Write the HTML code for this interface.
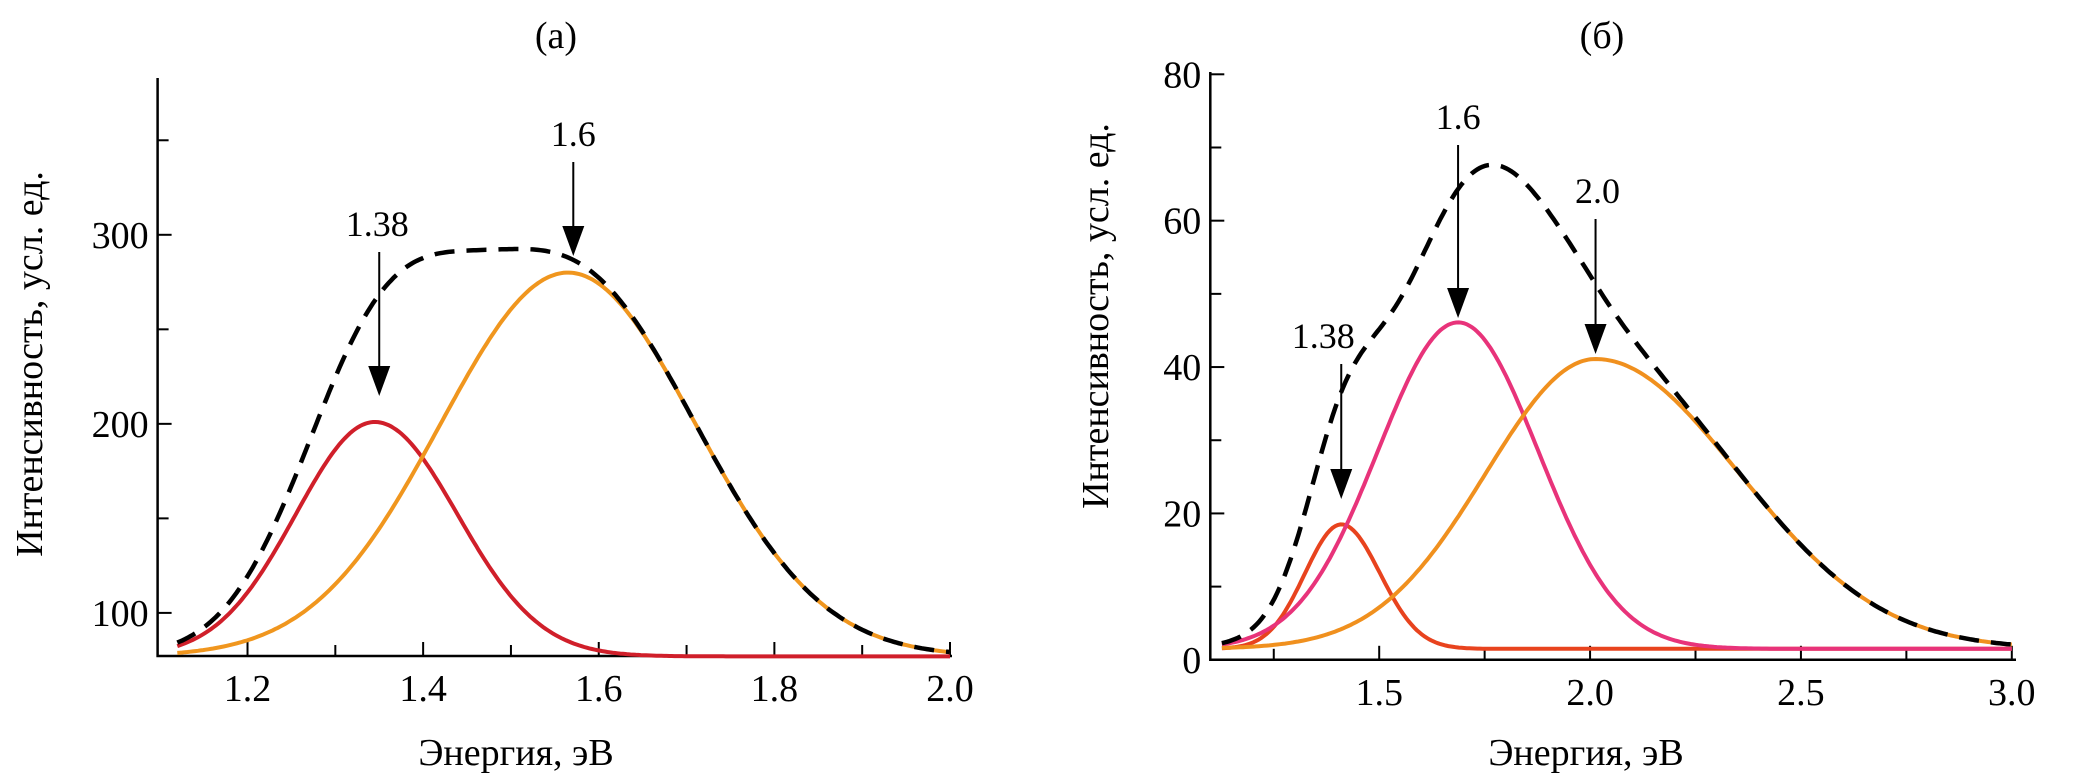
<!DOCTYPE html>
<html><head><meta charset="utf-8"><style>
html,body{margin:0;padding:0;background:#fff;}
svg{display:block;}
text{font-family:"Liberation Serif","DejaVu Serif","Times New Roman",serif;fill:#000;}
</style></head><body>
<svg id="chart" width="2092" height="783" viewBox="0 0 2092 783"></svg>
<script>
// Panel (a) data
const aXTicks=[1.2,1.4,1.6,1.8,2.0];
const aXTickLabels=["1.2","1.4","1.6","1.8","2.0"];
const aXMinor=[1.3,1.5,1.7,1.9];
const aYTicks=[100,200,300];
const aYTickLabels=["100","200","300"];
const aYMinor=[150,250,350];
const aCenters=[1.345,1.565];
const aAmps=[124,203];
const aSigL=[0.09,0.145];
const aSigR=[0.094,0.145];
const aBase=[77];
const aColors=["#d01f2a","#f0961e"];
const aArrows=[1.35,1.571];
const aArrowLabels=["1.38","1.6"];
// Panel (б) data
const bXTicks=[1.5,2.0,2.5,3.0];
const bXTickLabels=["1.5","2.0","2.5","3.0"];
const bXMinor=[1.25,1.75,2.25,2.75];
const bYTicks=[0,20,40,60,80];
const bYTickLabels=["0","20","40","60","80"];
const bYMinor=[10,30,50,70];
const bCenters=[1.41,1.687,2.013];
const bAmps=[17,44.6,39.6];
const bSigL=[0.086,0.19,0.26];
const bSigR=[0.092,0.19,0.34];
const bBase=[1.5];
const bColors=["#e8431e","#e8337a","#f0901e"];
const bArrows=[1.41,1.687,2.013];
const bArrowLabels=["1.38","1.6","2.0"];

const NS="http://www.w3.org/2000/svg";
const FONT='"Liberation Serif","DejaVu Serif",serif';
const svg=document.getElementById('chart');
function mk(tag,attrs,parent,txt){const e=document.createElementNS(NS,tag);for(const k in attrs)e.setAttribute(k,attrs[k]);if(tag==='text')e.setAttribute('font-family',FONT);if(txt!==undefined)e.textContent=txt;(parent||svg).appendChild(e);return e;}
function gauss(x,c,a,sl,sr){const s=x<c?sl:sr;return a*Math.exp(-(x-c)*(x-c)/(2*s*s));}

function panel(cfg){
  const g=mk('g',{});
  
  
  const X=v=>cfg.px0+(v-cfg.x0)/(cfg.x1-cfg.x0)*(cfg.px1-cfg.px0);
  const Y=v=>cfg.py0+(v-cfg.y0)/(cfg.y1-cfg.y0)*(cfg.py1-cfg.py0);
  const ax=mk('path',{d:`M${cfg.px0},${cfg.axTop} L${cfg.px0},${cfg.py0} L${cfg.axRight},${cfg.py0}`,fill:'none',stroke:'#000','stroke-width':2.5},g);
  
  
  cfg.xt.forEach((v,i)=>{
    const t=mk('line',{x1:X(v),x2:X(v),y1:cfg.py0,y2:cfg.py0-14,stroke:'#000','stroke-width':2},g);
    
    
    const l=mk('text',{x:X(v),y:cfg.py0+45,'text-anchor':'middle','font-size':38},g,cfg.xl[i]);
    
    
  });
  cfg.xm.forEach(v=>{
    const t=mk('line',{x1:X(v),x2:X(v),y1:cfg.py0,y2:cfg.py0-11,stroke:'#000','stroke-width':2},g);
    
    
  });
  cfg.yt.forEach((v,i)=>{
    const t=mk('line',{x1:cfg.px0,x2:cfg.px0+14,y1:Y(v),y2:Y(v),stroke:'#000','stroke-width':2},g);
    
    
    const l=mk('text',{x:cfg.px0-9,y:Y(v)+13,'text-anchor':'end','font-size':38},g,cfg.yl[i]);
    
    
  });
  cfg.ym.forEach(v=>{
    const t=mk('line',{x1:cfg.px0,x2:cfg.px0+11,y1:Y(v),y2:Y(v),stroke:'#000','stroke-width':2},g);
    
    
  });
  const N=300;
  const sum=[];
  for(let k=0;k<=N;k++)sum.push(cfg.base[0]);
  cfg.c.forEach((c,i)=>{
    let d='';
    for(let k=0;k<=N;k++){
      const x=cfg.cx0+(cfg.cx1-cfg.cx0)*k/N;
      const v=gauss(x,c,cfg.a[i],cfg.sl[i],cfg.sr[i]);
      sum[k]+=v;
      d+=(k?'L':'M')+X(x).toFixed(1)+','+Y(cfg.base[0]+v).toFixed(1);
    }
    const p=mk('path',{d:d,fill:'none',stroke:cfg.col[i],'stroke-width':4},g);
    
    
  });
  let d='';
  for(let k=0;k<=N;k++){const x=cfg.cx0+(cfg.cx1-cfg.cx0)*k/N;d+=(k?'L':'M')+X(x).toFixed(1)+','+Y(sum[k]).toFixed(1);}
  const sp=mk('path',{d:d,fill:'none',stroke:'#000','stroke-width':4.5,'stroke-dasharray':'20 12'},g);
  
  
  cfg.arr.forEach((v,i)=>{
    const x=X(v);const s=cfg.arrY[i];
    const ln=mk('line',{x1:x,x2:x,y1:s[0],y2:s[1]-28,stroke:'#000','stroke-width':2},g);
    
    
    const hd=mk('polygon',{points:`${x-11},${s[1]-30} ${x+11},${s[1]-30} ${x},${s[1]}`,fill:'#000'},g);
    
    
    const lb=mk('text',{x:x+cfg.lblDx[i],y:s[0]-16,'text-anchor':'middle','font-size':36},g,cfg.al[i]);
    
    
  });
  const tt=mk('text',{x:cfg.titleX,y:48,'text-anchor':'middle','font-size':38},g,cfg.title);
  
  
  const xt=mk('text',{x:cfg.xTitleX,y:765,'text-anchor':'middle','font-size':38},g,'Энергия, эВ');
  
  
  const yt=mk('text',{x:0,y:0,'text-anchor':'middle','font-size':38,transform:`translate(${cfg.yTitleX},${cfg.yTitleY}) rotate(-90)`},g,'Интенсивность, усл. ед.');
  
  
}

panel({name:'panel-a',px0:157.6,px1:950,x0:1.0976,x1:2.0,py0:656,py1:234.8,y0:77.2,y1:300,axTop:78,axRight:952,
  xt:aXTicks,xl:aXTickLabels,xm:aXMinor,yt:aYTicks,yl:aYTickLabels,ym:aYMinor,
  c:aCenters,a:aAmps,sl:aSigL,sr:aSigR,base:aBase,col:aColors,cx0:1.12,cx1:2.0,
  arr:aArrows,al:aArrowLabels,arrY:[[252,396],[162,256]],lblDx:[-2,0],
  title:'(а)',titleX:556,xTitleX:516,yTitleX:42,yTitleY:364});
panel({name:'panel-b',px0:1210.3,px1:2011.8,x0:1.0995,x1:3.0,py0:659.8,py1:74.3,y0:0,y1:80,axTop:72,axRight:2016,
  xt:bXTicks,xl:bXTickLabels,xm:bXMinor,yt:bYTicks,yl:bYTickLabels,ym:bYMinor,
  c:bCenters,a:bAmps,sl:bSigL,sr:bSigR,base:bBase,col:bColors,cx0:1.127,cx1:3.0,
  arr:bArrows,al:bArrowLabels,arrY:[[364,499],[145,318],[219,354]],lblDx:[-18,0,2],
  title:'(б)',titleX:1602,xTitleX:1586,yTitleX:1108,yTitleY:316});
</script>
</body></html>
